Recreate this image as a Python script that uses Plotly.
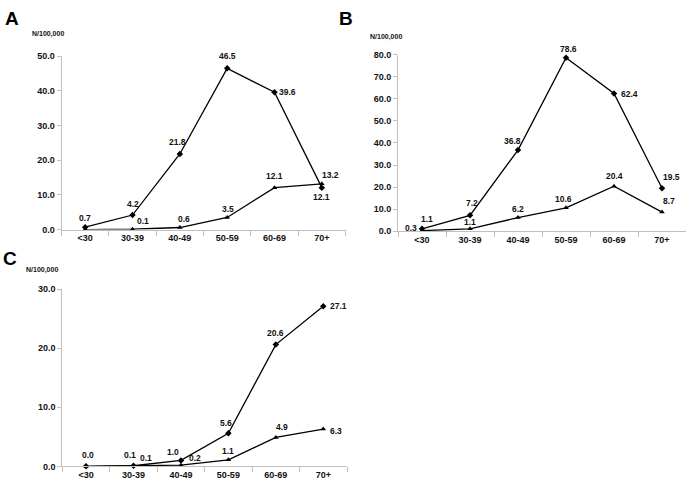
import plotly.graph_objects as go

categories = ["<30", "30-39", "40-49", "50-59", "60-69", "70+"]

a_upper = [0.7, 4.2, 21.8, 46.5, 39.6, 12.1]
a_lower = [0.0, 0.1, 0.6, 3.5, 12.1, 13.2]
a_upper_labels = ["0.7", "4.2", "21.8", "46.5", "39.6", "12.1"]
a_lower_labels = ["", "0.1", "0.6", "3.5", "12.1", "13.2"]

b_upper = [1.1, 7.2, 36.8, 78.6, 62.4, 19.5]
b_lower = [0.3, 1.1, 6.2, 10.6, 20.4, 8.7]
b_upper_labels = ["1.1", "7.2", "36.8", "78.6", "62.4", "19.5"]
b_lower_labels = ["0.3", "1.1", "6.2", "10.6", "20.4", "8.7"]

c_upper = [0.0, 0.1, 1.0, 5.6, 20.6, 27.1]
c_lower = [0.0, 0.1, 0.2, 1.1, 4.9, 6.3]
c_upper_labels = ["0.0", "0.1", "1.0", "5.6", "20.6", "27.1"]
c_lower_labels = ["", "0.1", "0.2", "1.1", "4.9", "6.3"]

# label offsets in pixels (dx right, dy down) relative to each point
a_upper_off = [(0, -9), (0, -11), (-2, -12), (0, -12), (13, 0), (0, 9)]
a_lower_off = [(0, 0), (10, -8), (4, -8.5), (1, -8.5), (0, -12), (9, -9)]
b_upper_off = [(5, -10), (2, -12), (-6, -9), (2, -9), (15, 0), (9, -11)]
b_lower_off = [(-11, -3), (0, -7), (0, -9), (-3, -9), (0, -10), (7, -11)]
c_upper_off = [(2, -11), (-3, -11), (-8, -8), (-2, -10), (0, -12), (15, 0)]
c_lower_off = [(0, 0), (13, -8), (14, -7), (0, -9), (6, -10), (13, 2)]

W, H = 689, 488
FONT = "Arial, Liberation Sans, sans-serif"
TXT = "#111111"
AXC = "#c0c0c0"

fig = go.Figure()

panels = [
    ("x", "y", a_upper, a_lower, a_upper_labels, a_lower_labels, a_upper_off, a_lower_off),
    ("x2", "y2", b_upper, b_lower, b_upper_labels, b_lower_labels, b_upper_off, b_lower_off),
    ("x3", "y3", c_upper, c_lower, c_upper_labels, c_lower_labels, c_upper_off, c_lower_off),
]

for xa, ya, up, lo, upl, lol, upo, loo in panels:
    fig.add_trace(go.Scatter(
        x=categories, y=lo, xaxis=xa, yaxis=ya, mode="lines+markers",
        line=dict(color="black", width=1.3),
        marker=dict(symbol="triangle-up", size=5, color="black"),
        showlegend=False, cliponaxis=False, hoverinfo="skip"))
    fig.add_trace(go.Scatter(
        x=categories, y=up, xaxis=xa, yaxis=ya, mode="lines+markers",
        line=dict(color="black", width=1.3),
        marker=dict(symbol="diamond", size=5, color="black"),
        showlegend=False, cliponaxis=False, hoverinfo="skip"))
    for vals, labs, offs in ((up, upl, upo), (lo, lol, loo)):
        for cat, v, lab, (dx, dy) in zip(categories, vals, labs, offs):
            if not lab:
                continue
            fig.add_annotation(
                x=cat, y=v, xref=xa, yref=ya, text=lab, showarrow=False,
                xanchor="center", yanchor="middle", xshift=dx, yshift=-dy,
                font=dict(family=FONT, size=8.5, color=TXT, weight="bold"))


def px_x(a, b):
    return [a / W, b / W]


def px_y(bottom, top):
    return [(H - bottom) / H, (H - top) / H]


xcommon = dict(type="category", showgrid=False, zeroline=False, showline=True,
               linecolor=AXC, linewidth=1, ticks="outside", tickson="boundaries",
               ticklen=5, tickcolor=AXC, range=[-0.5, 5.5],
               tickfont=dict(family=FONT, size=9, color=TXT, weight="bold"))
ycommon = dict(showgrid=False, zeroline=False, showline=True, linecolor=AXC,
               linewidth=1, ticks="outside", ticklen=4, tickcolor=AXC,
               tickformat=".1f",
               tickfont=dict(family=FONT, size=9, color=TXT, weight="bold"))

fig.update_layout(
    width=W, height=H,
    margin=dict(l=0, r=0, t=0, b=0),
    paper_bgcolor="white", plot_bgcolor="white",
    xaxis=dict(domain=px_x(61.5, 345.5), anchor="y", **xcommon),
    yaxis=dict(domain=px_y(229.3, 52.3), anchor="x", range=[0, 50], dtick=10, **ycommon),
    xaxis2=dict(domain=px_x(398, 686), anchor="y2", **xcommon),
    yaxis2=dict(domain=px_y(231, 50.7), anchor="x2", range=[0, 80], dtick=10, **ycommon),
    xaxis3=dict(domain=px_x(62.3, 347), anchor="y3", **xcommon),
    yaxis3=dict(domain=px_y(471, 290), anchor="x3", range=[0, 30], dtick=10, **ycommon),
)

letters = [("A", 11.5, 13.5), ("B", 346, 13.5), ("C", 10, 259)]
for t, x, y in letters:
    fig.add_annotation(text=t, x=x / W, y=(H - y) / H, xref="paper", yref="paper",
                       xanchor="center", yanchor="middle", showarrow=False,
                       font=dict(family=FONT, size=19, color="black", weight="bold"))

units = [(47.5, 29.5), (386, 33), (42, 271)]
for x, y in units:
    fig.add_annotation(text="N/100,000", x=x / W, y=(H - y) / H, xref="paper", yref="paper",
                       xanchor="center", yanchor="middle", showarrow=False,
                       font=dict(family=FONT, size=7, color=TXT, weight="bold"))

fig.write_html("out.html", config={"displayModeBar": False},
               post_script="document.body.style.margin='0';document.body.style.overflow='hidden';")
